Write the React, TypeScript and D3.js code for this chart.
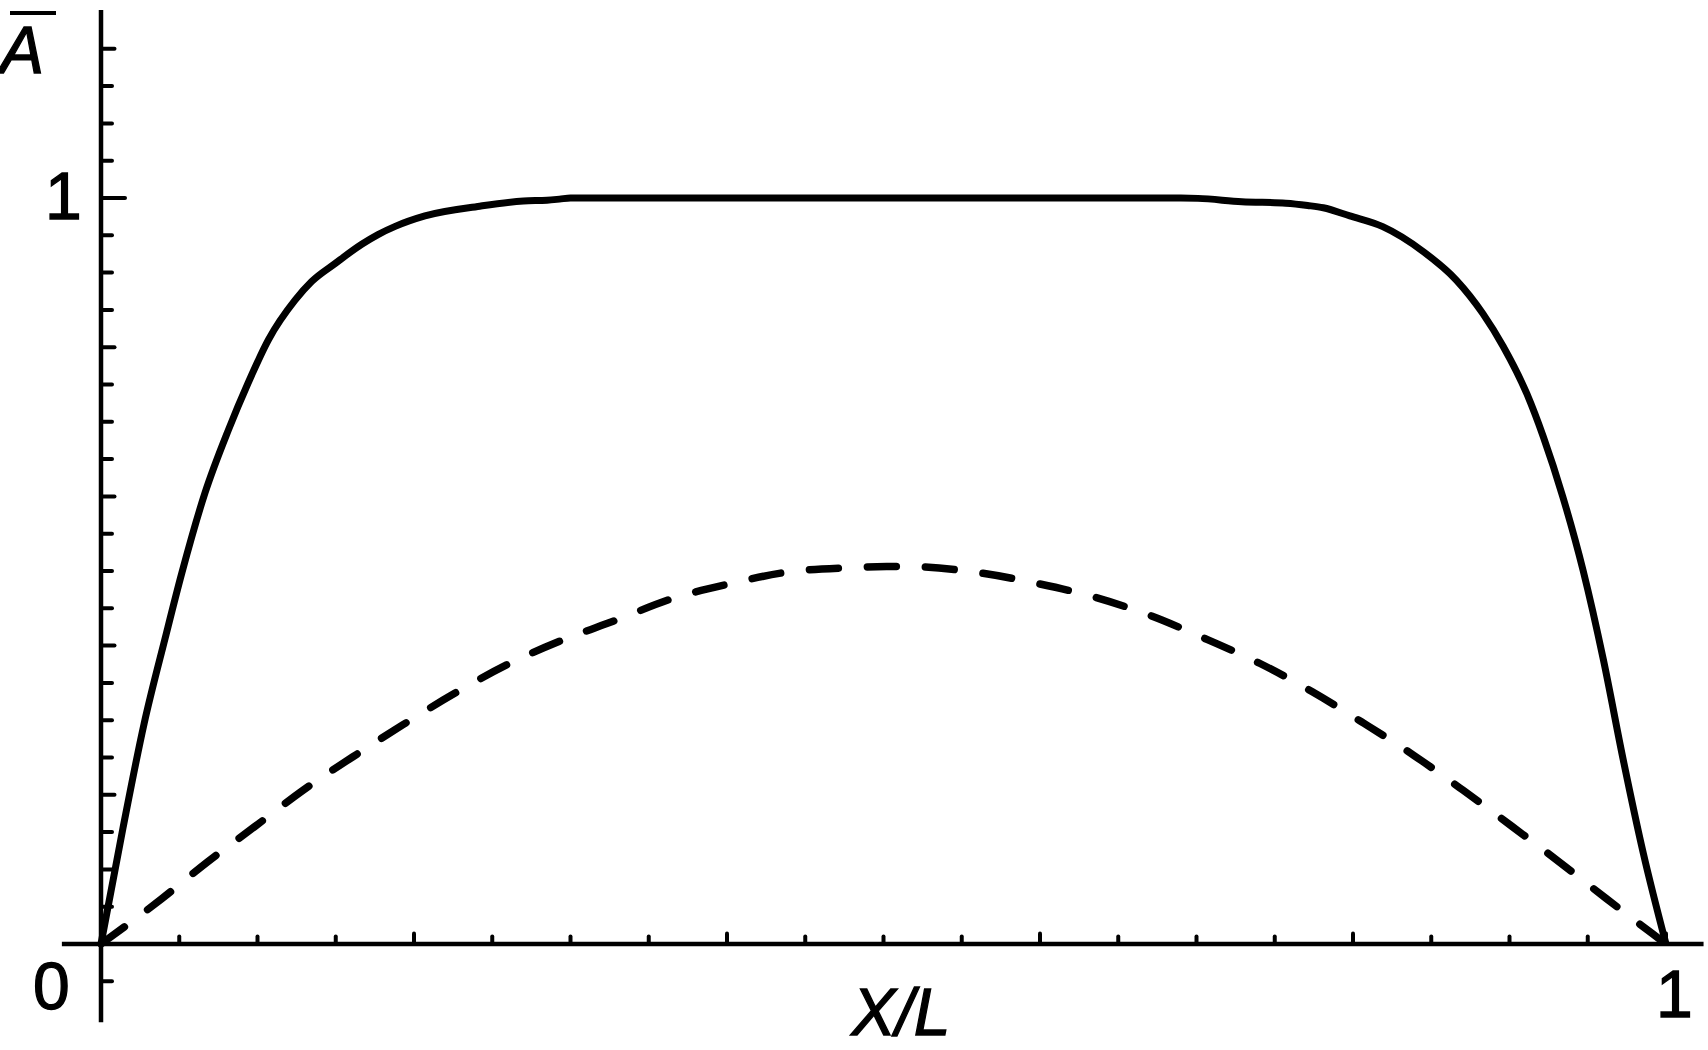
import React from "react";
import * as d3 from "d3";

// Solid curve (X/L, A)
const solidX = [0, 0.014, 0.0275, 0.041, 0.0516, 0.0665, 0.0814, 0.094, 0.107, 0.124, 0.1346, 0.1495, 0.1666, 0.177, 0.188, 0.207, 0.242, 0.27, 0.285, 0.293, 0.30, 0.4, 0.5, 0.6, 0.69, 0.701, 0.729, 0.757, 0.771, 0.781, 0.798, 0.819, 0.845, 0.866, 0.883, 0.896, 0.911, 0.9216, 0.934, 0.947, 0.96, 0.9727, 0.9855, 1.0];
const solidY = [0, 0.155, 0.295, 0.41, 0.497, 0.605, 0.689, 0.752, 0.81, 0.863, 0.888, 0.912, 0.938, 0.951, 0.962, 0.976, 0.989, 0.996, 0.997, 0.9985, 1.0, 1.0, 1.0, 1.0, 1.0, 0.9995, 0.995, 0.993, 0.99, 0.987, 0.976, 0.9616, 0.928, 0.89, 0.845, 0.801, 0.738, 0.68, 0.6, 0.501, 0.381, 0.2466, 0.1216, 0];

// Dashed curve
const dashX = [0, 0.039, 0.068, 0.098, 0.129, 0.161, 0.193, 0.226, 0.261, 0.295, 0.329, 0.365, 0.402, 0.44, 0.479, 0.502, 0.5196, 0.56, 0.5979, 0.6354, 0.6713, 0.707, 0.7406, 0.774, 0.8068, 0.8388, 0.8704, 0.9014, 0.9318, 0.9618, 0.9912, 1.0];
const dashY = [0, 0.061, 0.11, 0.157, 0.206, 0.251, 0.294, 0.336, 0.376, 0.4075, 0.434, 0.463, 0.483, 0.499, 0.5045, 0.506, 0.5058, 0.498, 0.4835, 0.4647, 0.4397, 0.408, 0.376, 0.338, 0.296, 0.253, 0.206, 0.158, 0.11, 0.061, 0.014, 0];

// Tick indices (multiples of 0.05)
const xTickIdx = d3.range(1, 21);
const yTickIdx = [-1, ...d3.range(1, 25)];
const xTickLabels = ["1"];
const yTickLabels = ["0", "1"];

export default function App() {
  const W = 1708, H = 1050;
  const x = d3.scaleLinear().domain([0, 1]).range([101, 1666]);
  const y = d3.scaleLinear().domain([0, 1]).range([944, 198]);

  const line = d3.line<[number, number]>()
    .x(d => x(d[0]))
    .y(d => y(d[1]))
    .curve(d3.curveMonotoneX);

  const solid = solidX.map((v, i) => [v, solidY[i]] as [number, number]);
  const dashed = dashX.map((v, i) => [v, dashY[i]] as [number, number]);

  const font = "'Liberation Sans', Arial, Helvetica, sans-serif";
  const textStroke = { stroke: "#000", strokeWidth: 1.3 };

  return (
    <svg width={W} height={H} style={{ position: "absolute", left: 0, top: 0, background: "#fff" }}
      fontFamily={font}>
      <rect x={0} y={0} width={W} height={H} fill="#fff" />
      {/* axes */}
      <line x1={x(-0.025)} x2={x(1.024)} y1={y(0)} y2={y(0)} stroke="#000" strokeWidth={4.5} />
      <line x1={x(0)} x2={x(0)} y1={y(-0.105)} y2={y(1.252)} stroke="#000" strokeWidth={4.5} />
      {/* x ticks */}
      {xTickIdx.map(i => {
        const v = i * 0.05;
        const len = i % 4 === 0 ? 10.5 : 7.5;
        return <line key={"xt" + i} x1={x(v)} x2={x(v)} y1={y(0)} y2={y(0) - len}
          stroke="#000" strokeWidth={4} strokeLinecap="round" />;
      })}
      {/* y ticks */}
      {yTickIdx.map(i => {
        const v = i * 0.05;
        const len = i === 20 ? 24 : i % 4 === 0 ? 13.5 : 11;
        return <line key={"yt" + i} x1={x(0)} x2={x(0) + len} y1={y(v)} y2={y(v)}
          stroke="#000" strokeWidth={4} strokeLinecap="round" />;
      })}
      {/* curves */}
      <path d={line(dashed) || ""} fill="none" stroke="#000" strokeWidth={7.5}
        strokeDasharray="29 29" strokeLinecap="round" />
      <path d={line(solid) || ""} fill="none" stroke="#000" strokeWidth={7} strokeLinejoin="round" />
      {/* labels */}
      <text x={45} y={219} fontSize={66} fill="#000" {...textStroke}>{yTickLabels[1]}</text>
      <text x={33} y={1009} fontSize={66} fill="#000" {...textStroke}>{yTickLabels[0]}</text>
      <text x={1656} y={1017} fontSize={66} fill="#000" {...textStroke}>{xTickLabels[0]}</text>
      <text x={901} y={1035} fontSize={66} fontStyle="italic" textAnchor="middle" fill="#000" {...textStroke}>X/L</text>
      <text x={0} y={73} fontSize={66} fontStyle="italic" fill="#000" {...textStroke}>A</text>
      <line x1={10} x2={56} y1={13} y2={13} stroke="#000" strokeWidth={4} />
    </svg>
  );
}
